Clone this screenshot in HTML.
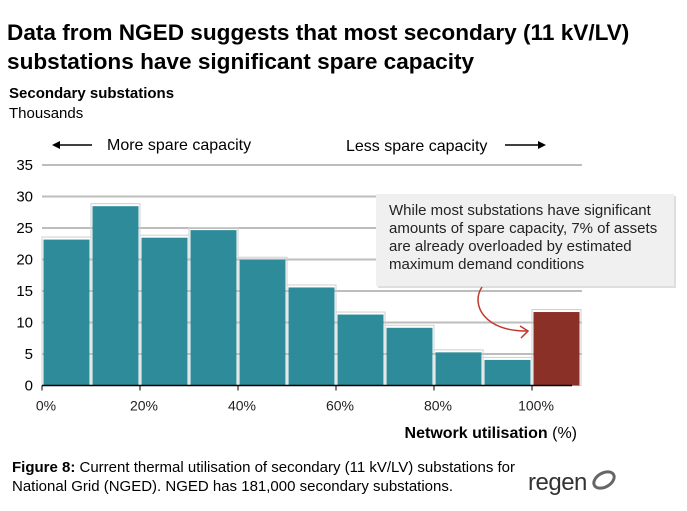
<!DOCTYPE html>
<html><head><meta charset="utf-8">
<style>
body{margin:0;background:#fff;font-family:"Liberation Sans",sans-serif;}
#wrap{position:relative;width:687px;height:511px;overflow:hidden;}
</style></head>
<body><div id="wrap">
<svg id="svg" width="687" height="511" xmlns="http://www.w3.org/2000/svg" font-family="Liberation Sans, sans-serif">
<text x="7" y="40" font-size="22.6" font-weight="bold" fill="#000">Data from NGED suggests that most secondary (11 kV/LV)</text>
<text x="7" y="69" font-size="22.6" font-weight="bold" fill="#000">substations have significant spare capacity</text>
<text x="9" y="98" font-size="15" font-weight="bold">Secondary substations</text>
<text x="9" y="118" font-size="15">Thousands</text>
<g>
<line x1="56" y1="145" x2="92" y2="145" stroke="#000" stroke-width="1.5"/>
<polygon points="52,145 60,141 60,149" fill="#000"/>
<text x="107" y="150" font-size="16">More spare capacity</text>
</g>
<g>
<text x="346" y="151" font-size="16">Less spare capacity</text>
<line x1="505" y1="145" x2="541" y2="145" stroke="#000" stroke-width="1.5"/>
<polygon points="546,145 538,141 538,149" fill="#000"/>
</g>
<g id="grid"></g><g id="bars"></g><g id="axes"></g>
<g>
<rect x="378" y="196" width="298" height="92" fill="#c8c8c8" opacity="0.6"/>
<rect x="376" y="194" width="298" height="92" fill="#f0f0f0"/>
<text x="389" y="215" font-size="15" fill="#222">While most substations have significant</text>
<text x="389" y="233" font-size="15" fill="#222">amounts of spare capacity, 7% of assets</text>
<text x="389" y="251" font-size="15" fill="#222">are already overloaded by estimated</text>
<text x="389" y="269" font-size="15" fill="#222">maximum demand conditions</text>
</g>
<g fill="none" stroke="#c0392b" stroke-width="1.5">
<path d="M482,287 C470,305 485,332 528,331"/>
<path d="M520,326 L528,331 L521,338"/>
</g>
<text x="577" y="438" font-size="16" text-anchor="end"><tspan font-weight="bold">Network utilisation</tspan> (%)</text>
<text x="12" y="472" font-size="15"><tspan font-weight="bold">Figure 8:</tspan> Current thermal utilisation of secondary (11 kV/LV) substations for</text>
<text x="12" y="491" font-size="15">National Grid (NGED). NGED has 181,000 secondary substations.</text>
<g>
<text x="528" y="490" font-size="24" fill="#333" letter-spacing="-0.5">regen</text>
<ellipse cx="604" cy="480" rx="11" ry="7" fill="none" stroke="#666" stroke-width="3" transform="rotate(-30 604 480)"/>
</g>
</svg></div>
<script>
const categories=["0-10%","10-20%","20-30%","30-40%","40-50%","50-60%","60-70%","70-80%","80-90%","90-100%","100%+"];
const values=[23.4,28.7,23.7,24.9,20.2,15.8,11.5,9.4,5.5,4.3,11.9];
const yTicks=[0,5,10,15,20,25,30,35];
const xTickLabels=["0%","20%","40%","60%","80%","100%"];
const xTickVals=[0,20,40,60,80,100];
const NS="http://www.w3.org/2000/svg";
const X0=42,PX=4.9,Y0=385.5,PY=6.3;
const xs=v=>X0+v*PX, ys=v=>Y0-v*PY;
function mk(t,a,p){const e=document.createElementNS(NS,t);for(const k in a)e.setAttribute(k,a[k]);p.appendChild(e);return e;}
const grid=document.getElementById('grid'),bars=document.getElementById('bars'),axes=document.getElementById('axes');
yTicks.forEach(t=>{
 if(t>0){const l=mk('line',{x1:X0,x2:582,y1:ys(t),y2:ys(t),stroke:'#bdbdbd','stroke-width':2},grid);
 
 }
 const tx=mk('text',{x:33,y:ys(t)+5,'font-size':15,'text-anchor':'end'},axes);tx.textContent=t;
 
 
});
values.forEach((v,i)=>{
 const x=xs(i*10),w=10*PX,y=ys(v);
 mk('rect',{x:x,y:y-1,width:w,height:Y0-y+1,fill:'none',stroke:'#cfcfcf','stroke-width':1},bars);
 const r=mk('rect',{x:x+1.5,y:y+1.5,width:w-3,height:Y0-y-1.5,fill:i===values.length-1?'#8b3026':'#2d8b9a'},bars);
 
 
});
const ax=mk('line',{x1:X0,x2:572,y1:Y0,y2:Y0,stroke:'#000','stroke-width':1.5},axes);


xTickVals.forEach((t,i)=>{
 mk('line',{x1:xs(t),x2:xs(t),y1:Y0,y2:Y0+5,stroke:'#000','stroke-width':1},axes);
 const tx=mk('text',{x:xs(t)+4,y:Y0+25,'font-size':14,'text-anchor':'middle',fill:'#222'},axes);tx.textContent=xTickLabels[i];
 
 
});
</script>
</body></html>
